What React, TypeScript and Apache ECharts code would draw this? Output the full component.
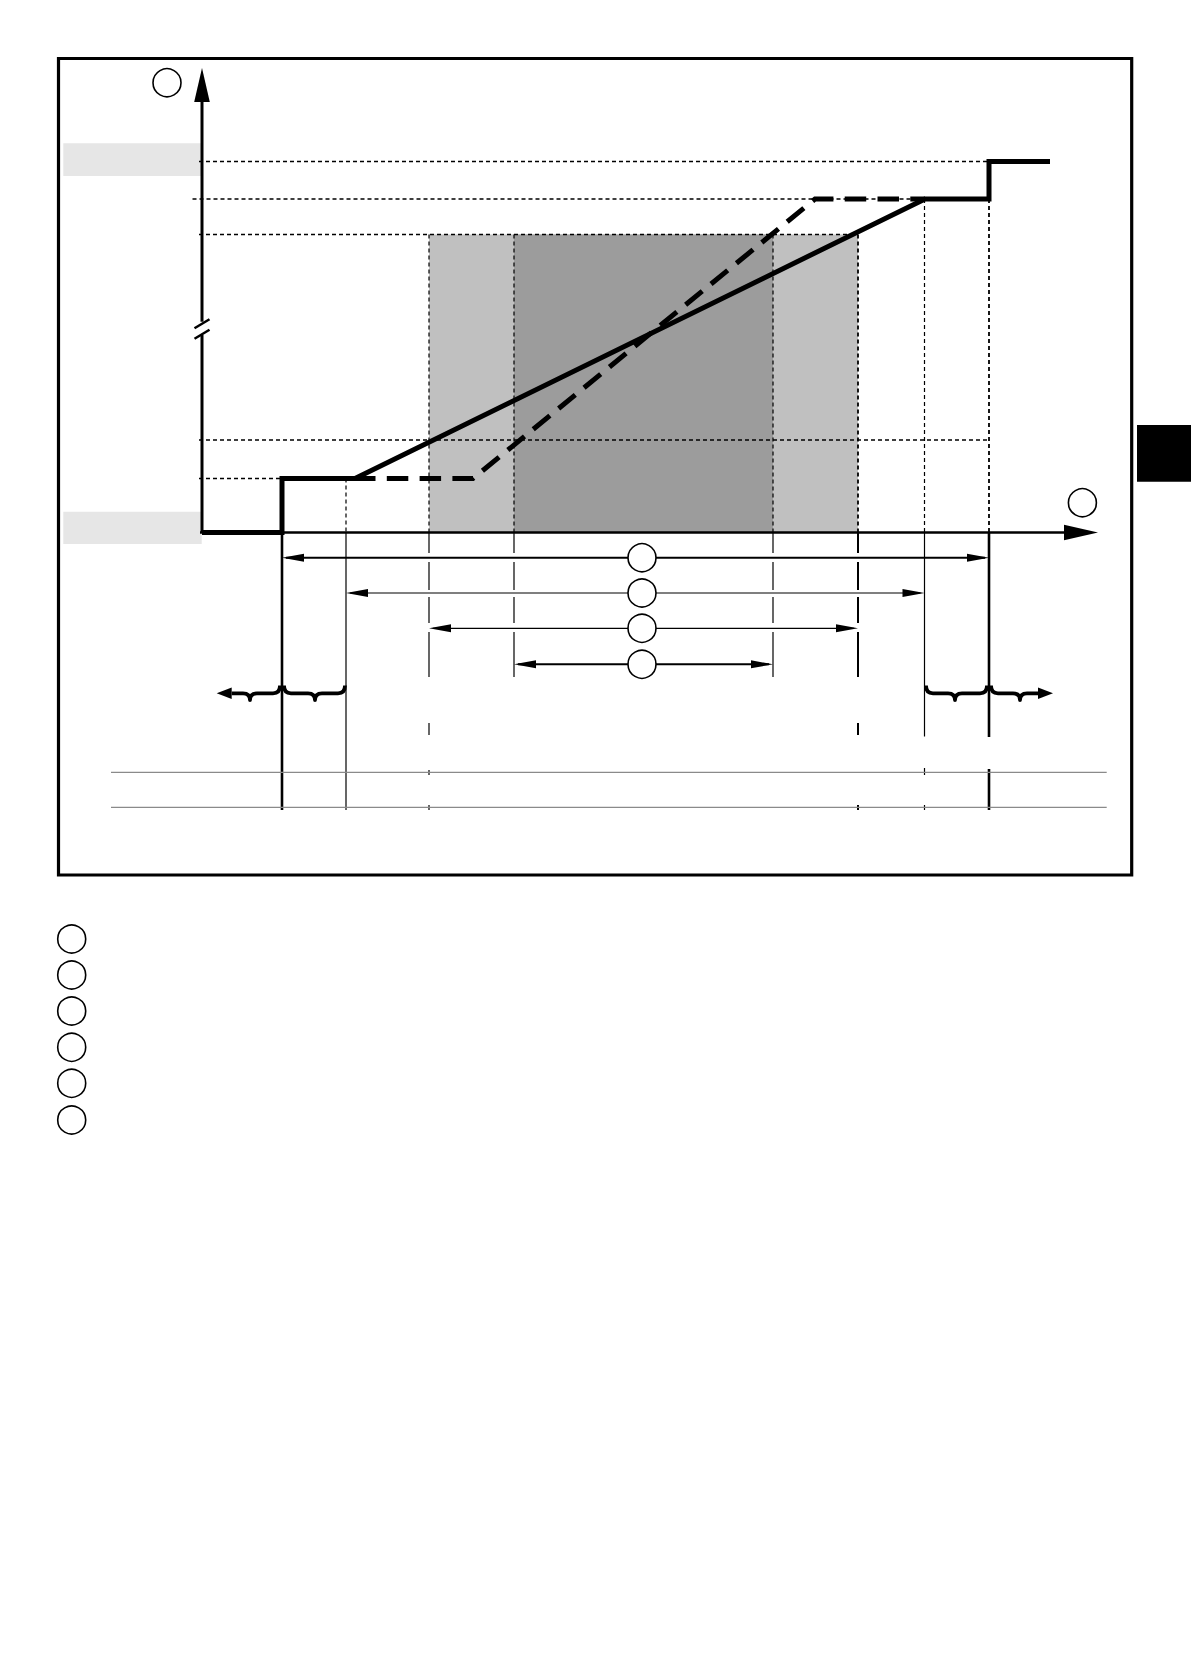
import * as echarts from "echarts";
import { useEffect, useRef } from "react";

// Units: pixels right of the y-axis (x) and above the x-axis (y).
const AXIS_X_END = 896;
const AXIS_Y_END = 464.5;

// reference positions a..h along the x-axis
const limitsX = [80, 144, 227, 312, 571, 656, 722.5, 787];
// dotted levels on the y-axis
const levelsY = [54, 92.5, 298, 333.5, 371];

// output characteristic (solid) and the steeper variant (dashed)
const solidX = [0, 80, 80, 153, 723, 787, 787, 848];
const solidY = [0, 0, 54, 54, 333.5, 333.5, 371, 371];
const dashedX = [152, 271, 613, 723];
const dashedY = [54, 54, 333.5, 333.5];

// dimension rows under the axis
const dimRowsY = [-25.2, -60.5, -95.8, -131.8];
const dimCircleX = 440;

// pieces of the long-dashed stems under the axis
const stemRuns = [
  [0, -20.5],
  [-29.5, -57.5],
  [-64.5, -90.5],
  [-99.5, -144.5],
];
const stemBottom = -277.5;
const ticksC = [
  [-190.5, -202.5],
  [-237.5, -242.5],
  [-272.5, -277.5],
];
const ticksF = [
  [-190.5, -202.5],
  [-272.5, -277.5],
];
const ticksG = [
  [-235.5, -242.5],
  [-272.5, -277.5],
];

const tableRowsY = [-239.8, -274.8];
const tableX = [-91, 904.7];

// braces: start, tip, end, curl at start, curl at end
const braceSpans = [
  [29.7, 48, 78, 0, 1],
  [82, 113, 143, 1, 1],
  [724, 753, 785, 1, 1],
  [789, 818, 836, 1, 0],
];
const braceArrows = [
  [29.7, 14.7],
  [836, 851],
];
const braceY = { top: -153, bar: -160.8, tip: -167.5 };

const labelCircles = [
  [-35, 449.8],
  [880.4, 29.8],
];
const legendCircleX = -130.3;
const legendCircleY = [-406.5, -442.5, -478.5, -514.8, -550.8, -587.5];

const labelBoxes = [
  [-138.7, 356.5, -0.3, 389.2],
  [-138.7, -11.5, -0.3, 20.8],
];
const tabBox = [[935, 50.8, 989, 107.5]];
const frameBox = [[-143.5, -342.5, 929.7, 474]];

const [xa, xb, xc, xd, xe, xf, xg, xh] = limitsX;
const [y1, y2, y3, y4, y5] = levelsY;

const levelLines = [
  [-3, y5, xh, y5],
  [-9.5, y4, xh, y4],
  [-3, y3, xf, y3],
  [-3, y2, xh, y2],
  [-3, y1, xa, y1],
];
const guideThin = [
  [xb, y1, xb, 0],
  [xc, y3, xc, 0],
  [xd, y3, xd, 0],
  [xe, y3, xe, 0],
  [xg, y4, xg, 0],
];
const guideMedium = [
  [xf, y3, xf, 0],
  [xh, y4, xh, 0],
];

const vert = (x: number, runs: number[][]) => runs.map(([a, b]) => [x, a, x, b]);

const stemsThin = [
  [xb, 0, xb, stemBottom],
  ...vert(xc, stemRuns),
  ...vert(xc, ticksC),
  ...vert(xd, stemRuns),
  ...vert(xe, stemRuns),
  [xg, 0, xg, -204],
  ...vert(xg, ticksG),
];
const stemsMedium = [...vert(xf, stemRuns), ...vert(xf, ticksF)];
const stemsBold = [
  [xa, 0, xa, stemBottom],
  [xh, 0, xh, -204.5],
  [xh, -236.5, xh, stemBottom],
];

const dimSpans = [
  [xa, xh],
  [xb, xg],
  [xc, xf],
  [xd, xe],
];

const headPoints = (tip: number[], base: number[], half: number) => {
  const vx = tip[0] - base[0];
  const vy = tip[1] - base[1];
  const len = Math.hypot(vx, vy) || 1;
  const nx = (-vy / len) * half;
  const ny = (vx / len) * half;
  return [tip, [base[0] + nx, base[1] + ny], [base[0] - nx, base[1] - ny]];
};

const segments = (id: string, data: number[][], width: number, dash?: number[], color = "#000", z = 3) => ({
  type: "custom",
  id,
  coordinateSystem: "cartesian2d",
  data,
  z,
  silent: true,
  renderItem: (_p: any, api: any) => {
    const p1 = api.coord([api.value(0), api.value(1)]);
    const p2 = api.coord([api.value(2), api.value(3)]);
    return {
      type: "line",
      shape: { x1: p1[0], y1: p1[1], x2: p2[0], y2: p2[1] },
      style: { stroke: color, lineWidth: width, lineDash: dash, fill: null },
    };
  },
});

const rects = (id: string, data: number[][], fill: string, stroke?: string, width = 0, z = 1) => ({
  type: "custom",
  id,
  coordinateSystem: "cartesian2d",
  data,
  z,
  silent: true,
  renderItem: (_p: any, api: any) => {
    const p1 = api.coord([api.value(0), api.value(1)]);
    const p2 = api.coord([api.value(2), api.value(3)]);
    return {
      type: "rect",
      shape: {
        x: Math.min(p1[0], p2[0]),
        y: Math.min(p1[1], p2[1]),
        width: Math.abs(p2[0] - p1[0]),
        height: Math.abs(p2[1] - p1[1]),
      },
      style: { fill, stroke: stroke || null, lineWidth: width },
    };
  },
});

const circles = (id: string, data: number[][]) => ({
  type: "custom",
  id,
  coordinateSystem: "cartesian2d",
  data,
  z: 8,
  silent: true,
  renderItem: (_p: any, api: any) => {
    const c = api.coord([api.value(0), api.value(1)]);
    return {
      type: "circle",
      shape: { cx: c[0], cy: c[1], r: 14 },
      style: { fill: "#fff", stroke: "#000", lineWidth: 1.6 },
    };
  },
});

const dimArrows = (id: string, rows: number[][], width: number) => ({
  type: "custom",
  id,
  coordinateSystem: "cartesian2d",
  data: rows,
  z: 6,
  silent: true,
  renderItem: (_p: any, api: any) => {
    const y = api.value(2);
    const p1 = api.coord([api.value(0), y]);
    const p2 = api.coord([api.value(1), y]);
    const len = 22;
    return {
      type: "group",
      children: [
        {
          type: "line",
          shape: { x1: p1[0] + 4, y1: p1[1], x2: p2[0] - 4, y2: p2[1] },
          style: { stroke: "#000", lineWidth: width },
        },
        {
          type: "polygon",
          shape: { points: headPoints(p1, [p1[0] + len, p1[1]], 4) },
          style: { fill: "#000" },
        },
        {
          type: "polygon",
          shape: { points: headPoints(p2, [p2[0] - len, p2[1]], 4) },
          style: { fill: "#000" },
        },
      ],
    };
  },
});

const App = () => {
  const chartRef = useRef<HTMLDivElement>(null);

  useEffect(() => {
    document.body.style.margin = "0";
    if (!chartRef.current) return;
    const chart = echarts.init(chartRef.current, null, { renderer: "svg" });

    const dimRows = dimSpans.map(([a, b], i) => [a, b, dimRowsY[i]]);

    const option: any = {
      animation: false,
      grid: { left: 0, right: 0, top: 0, bottom: 0 },
      xAxis: { type: "value", min: -202, max: 989, show: false },
      yAxis: { type: "value", min: -1145.5, max: 532.5, show: false },
      series: [
        rects("lightZone", [[xc, 0, xf, y3]], "#c0c0c0"),
        rects("darkZone", [[xd, 0, xe, y3]], "#9c9c9c"),
        rects("labelBoxes", labelBoxes, "#e6e6e6"),
        rects("tab", tabBox, "#000"),
        segments("levels", levelLines, 1.3, [4, 3]),
        segments("guidesThin", guideThin, 1.2, [4, 3]),
        segments("guidesMedium", guideMedium, 1.8, [4, 3]),
        segments("stemsThin", stemsThin, 1.2),
        segments("stemsMedium", stemsMedium, 2),
        segments("stemsBold", stemsBold, 2.6),
        segments(
          "tableRows",
          tableRowsY.map((y) => [tableX[0], y, tableX[1], y]),
          1.3,
          undefined,
          "#8a8a8a"
        ),
        {
          type: "line",
          id: "dashed",
          data: dashedX.map((x, i) => [x, dashedY[i]]),
          symbol: "none",
          clip: false,
          silent: true,
          z: 5,
          lineStyle: { color: "#000", width: 5, type: [21.5, 11.3], cap: "butt", join: "miter" },
        },
        {
          type: "line",
          id: "solid",
          data: solidX.map((x, i) => [x, solidY[i]]),
          symbol: "none",
          clip: false,
          silent: true,
          z: 5,
          lineStyle: { color: "#000", width: 5, type: "solid", cap: "butt", join: "miter" },
        },
        // axes
        segments(
          "yAxisLine",
          [
            [0, 0, 0, 197.5],
            [0, 210.8, 0, AXIS_Y_END - 28],
          ],
          3,
          undefined,
          "#000",
          6
        ),
        segments(
          "yAxisBreak",
          [
            [-7.5, 193.8, 7.5, 202.8],
            [-7.5, 204.2, 7.5, 213.2],
          ],
          2.5,
          undefined,
          "#000",
          6
        ),
        segments("xAxisLine", [[-2, 0, AXIS_X_END - 28, 0]], 2.6, undefined, "#000", 6),
        {
          type: "custom",
          id: "axisHeads",
          coordinateSystem: "cartesian2d",
          data: [
            [0, AXIS_Y_END, 0, 1],
            [AXIS_X_END, 0, 1, 0],
          ],
          z: 6,
          silent: true,
          renderItem: (_p: any, api: any) => {
            const tx = api.value(0);
            const ty = api.value(1);
            const tip = api.coord([tx, ty]);
            const base = api.coord([tx - api.value(2) * 34, ty - api.value(3) * 34]);
            return {
              type: "polygon",
              shape: { points: headPoints(tip, base, 7.8) },
              style: { fill: "#000" },
            };
          },
        },
        dimArrows("dimsBold", [dimRows[0], dimRows[3]], 2),
        dimArrows("dimsThin", [dimRows[1], dimRows[2]], 1.2),
        {
          type: "custom",
          id: "braces",
          coordinateSystem: "cartesian2d",
          data: braceSpans,
          z: 6,
          silent: true,
          renderItem: (_p: any, api: any) => {
            const P = (x: number, y: number) => api.coord([x, y]);
            const [x0, yTop] = P(api.value(0), braceY.top);
            const [xt, yBar] = P(api.value(1), braceY.bar);
            const [x1, yTip] = P(api.value(2), braceY.tip);
            const r = 7;
            let d = api.value(3) ? `M${x0},${yTop} Q${x0},${yBar} ${x0 + r},${yBar}` : `M${x0},${yBar}`;
            d += ` L${xt - r},${yBar} Q${xt},${yBar} ${xt},${yTip} Q${xt},${yBar} ${xt + r},${yBar}`;
            d += ` L${x1 - r},${yBar}`;
            d += api.value(4) ? ` Q${x1},${yBar} ${x1},${yTop}` : ` L${x1},${yBar}`;
            return {
              type: "path",
              shape: { pathData: d },
              style: { fill: null, stroke: "#000", lineWidth: 3.8, lineJoin: "round" },
            };
          },
        },
        {
          type: "custom",
          id: "braceArrows",
          coordinateSystem: "cartesian2d",
          data: braceArrows,
          z: 6,
          silent: true,
          renderItem: (_p: any, api: any) => {
            const from = api.coord([api.value(0), braceY.bar]);
            const tip = api.coord([api.value(1), braceY.bar]);
            return {
              type: "polygon",
              shape: { points: headPoints(tip, from, 5.8) },
              style: { fill: "#000" },
            };
          },
        },
        circles("labelCircles", labelCircles),
        circles(
          "dimCircles",
          dimRowsY.map((y) => [dimCircleX, y])
        ),
        circles(
          "legendCircles",
          legendCircleY.map((y) => [legendCircleX, y])
        ),
        rects("frame", frameBox, "none", "#000", 3.2, 9),
      ],
    };

    chart.setOption(option);

    return () => {
      chart.dispose();
    };
  }, []);

  return <div ref={chartRef} style={{ width: "1191px", height: "1678px" }} />;
};

export default App;
